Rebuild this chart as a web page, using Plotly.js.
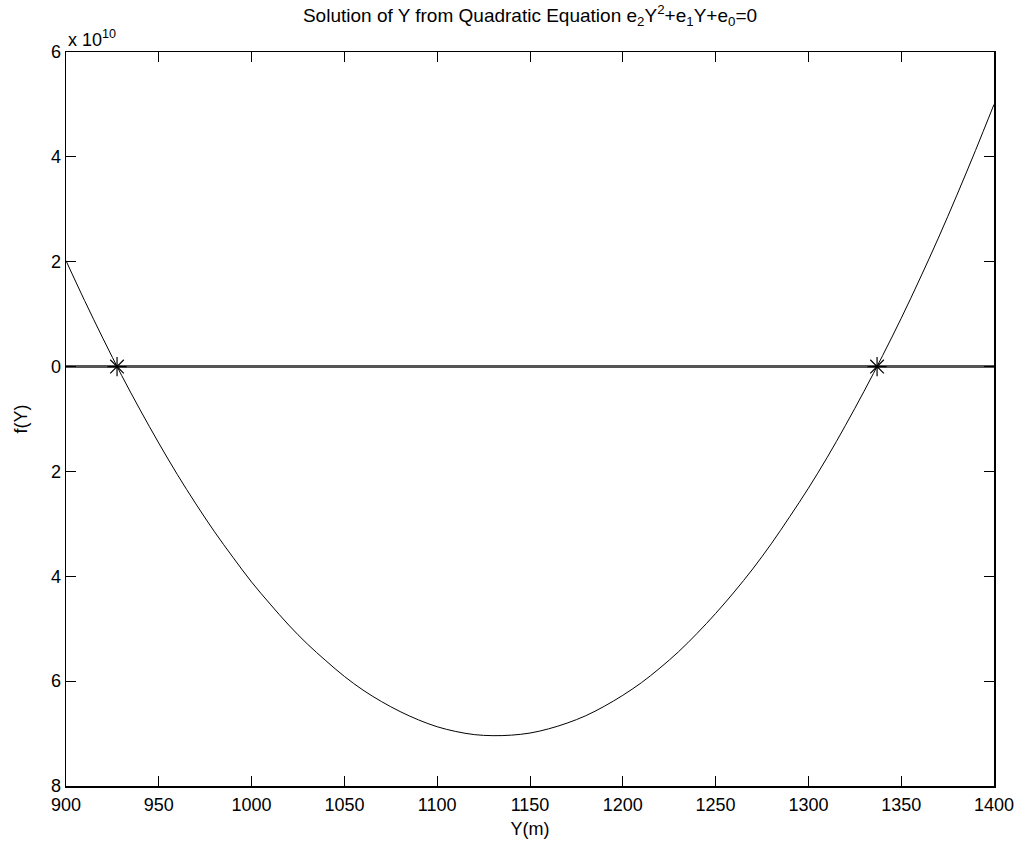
<!DOCTYPE html>
<html>
<head>
<meta charset="utf-8">
<script src="https://cdn.plot.ly/plotly-3.0.1.min.js"></script>
<style>html,body{margin:0;padding:0;background:#fff;}#chart{width:1025px;height:846px;}</style>
</head>
<body>
<div id="chart"></div>
<script>
// Y (m) sample positions
const yPos = [900,910,920,930,940,950,960,970,980,990,1000,1010,1020,1030,1040,1050,1060,1070,1080,1090,1100,1110,1120,1130,1140,1150,1160,1170,1180,1190,1200,1210,1220,1230,1240,1250,1260,1270,1280,1290,1300,1310,1320,1330,1340,1350,1360,1370,1380,1390,1400];
// f(Y) in units of 1e10
const fVals = [2.02,1.26,0.53,-0.17,-0.83,-1.46,-2.06,-2.62,-3.15,-3.64,-4.11,-4.53,-4.93,-5.29,-5.61,-5.91,-6.17,-6.39,-6.58,-6.74,-6.87,-6.96,-7.02,-7.04,-7.03,-6.99,-6.91,-6.80,-6.66,-6.48,-6.27,-6.03,-5.75,-5.44,-5.09,-4.71,-4.30,-3.86,-3.38,-2.86,-2.32,-1.74,-1.12,-0.47,0.21,0.92,1.67,2.45,3.27,4.12,5.00];
// zero line
const zeroX = [900, 1400];
const zeroY = [0, 0];
// roots marked with stars
const rootX = [927.5, 1337];
const rootY = [0, 0];
// axis ticks
const xTicks = [900,950,1000,1050,1100,1150,1200,1250,1300,1350,1400];
const yTickVals = [6,4,2,0,-2,-4,-6,-8];
const yTickText = ['6','4','2','0','2','4','6','8'];

const font = 'Liberation Sans, Arial, sans-serif';
const traces = [
  {x: zeroX, y: zeroY, mode: 'lines', line: {color: '#555555', width: 3}, hoverinfo: 'skip'},
  {x: yPos, y: fVals, mode: 'lines', line: {color: '#000000', width: 1, shape: 'spline'}},
  {x: rootX, y: rootY, mode: 'markers', marker: {symbol: 'asterisk-open', size: 16, color: '#000000', line: {color: '#000000', width: 1.2}}}
];
const layout = {
  width: 1025, height: 846,
  margin: {l: 66, r: 31, t: 52, b: 60},
  paper_bgcolor: '#ffffff', plot_bgcolor: '#ffffff',
  showlegend: false,
  font: {family: font, size: 18, color: '#000'},
  title: {text: 'Solution of Y from Quadratic Equation e<sub>2</sub>Y<sup>2</sup>+e<sub>1</sub>Y+e<sub>0</sub>=0', font: {family: font, size: 19, color: '#000'}, x: 0.5, xref: 'paper', xanchor: 'center', y: 0.99, yref: 'container', yanchor: 'top'},
  xaxis: {
    range: [900, 1400], tickvals: xTicks, ticktext: xTicks.map(String),
    ticks: 'inside', ticklen: 10, tickwidth: 1, tickcolor: '#000',
    showline: true, linecolor: '#000', linewidth: 1.5, mirror: 'ticks',
    showgrid: false, zeroline: false, ticklabelstandoff: 2,
    tickfont: {family: font, size: 18, color: '#000'},
    title: {text: 'Y(m)', font: {family: font, size: 18, color: '#000'}, standoff: 8}
  },
  yaxis: {
    range: [-8, 6], tickvals: yTickVals, ticktext: yTickText,
    ticks: 'inside', ticklen: 10, tickwidth: 1, tickcolor: '#000',
    showline: true, linecolor: '#000', linewidth: 1.5, mirror: 'ticks',
    showgrid: false, zeroline: false,
    tickfont: {family: font, size: 18, color: '#000'},
    title: {text: 'f(Y)', font: {family: font, size: 18, color: '#000'}, standoff: 18}
  },
  annotations: [
    {text: 'x 10<sup>10</sup>', xref: 'paper', yref: 'paper', x: 0, y: 1, xanchor: 'left', yanchor: 'bottom', showarrow: false, font: {family: font, size: 18, color: '#000'}, yshift: 0}
  ]
};
Plotly.newPlot('chart', traces, layout, {displayModeBar: false, staticPlot: true});
</script>
</body>
</html>
